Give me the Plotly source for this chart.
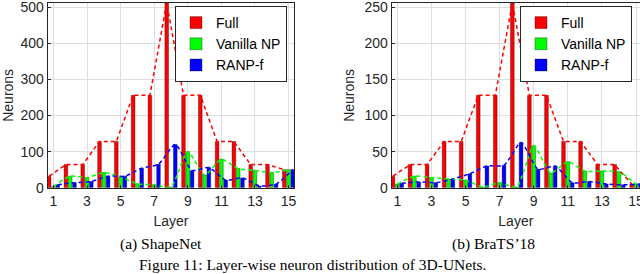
import plotly.graph_objects as go

layers = list(range(1, 16))

# ShapeNet
shape_full = [32, 64, 64, 128, 128, 256, 256, 512, 256, 256, 128, 128, 64, 64, 50]
shape_vnp = [3, 32, 28, 42, 30, 11, 8, 2, 100, 35, 79, 53, 48, 42, 50]
shape_ranp = [8, 14, 17, 32, 32, 54, 65, 120, 48, 56, 21, 27, 5, 10, 50]

# BraTS'18
brats_full = [16, 32, 32, 64, 64, 128, 128, 256, 128, 128, 64, 64, 32, 32, 5]
brats_vnp = [5, 16, 14, 12, 10.5, 1, 7, 1, 58, 20.5, 36, 23, 23, 22, 5]
brats_ranp = [6, 8, 7, 12, 19.5, 30, 31, 62.5, 25.5, 30, 7, 8.5, 5, 4, 5]

series_names = ["Full", "Vanilla NP", "RANP-f"]
colors = ["#ff0000", "#00ff00", "#0000ff"]
offsets = [-0.255, 0.0, 0.255]
bar_w = 0.22

fig = go.Figure()

def add_panel(data, xa, ya, legend):
    for k, (vals, name, col) in enumerate(zip(data, series_names, colors)):
        fig.add_trace(go.Bar(
            x=layers, y=vals, name=name, width=bar_w,
            offset=offsets[k] - bar_w / 2,
            marker=dict(color=col, line=dict(color="rgba(0,0,0,0.55)", width=0.6)),
            xaxis=xa, yaxis=ya, legend=legend,
        ))
    for k, (vals, col) in enumerate(zip(data, colors)):
        fig.add_trace(go.Scatter(
            x=[l + offsets[k] for l in layers], y=vals, mode="lines",
            line=dict(color=col, width=1.5, dash="4px,3px",
                      shape="linear" if k == 0 else "spline", smoothing=0.6),
            showlegend=False, xaxis=xa, yaxis=ya, hoverinfo="skip",
        ))

add_panel([shape_full, shape_vnp, shape_ranp], "x", "y", "legend")
add_panel([brats_full, brats_vnp, brats_ranp], "x2", "y2", "legend2")

font_axis = dict(family="Liberation Sans, Arial, sans-serif", size=14, color="#262626")
axis_common = dict(
    showline=True, linecolor="#262626", linewidth=1, mirror=True,
    showgrid=True, gridcolor="#dedede", gridwidth=1,
    ticks="inside", ticklen=3, tickcolor="#262626",
    tickfont=font_axis, zeroline=False, automargin=False,
    ticklabeloverflow="allow",
)

legend_font = dict(family="Liberation Sans, Arial, sans-serif", size=14, color="#000")
ydom = [1 - 187.7 / 274, 1 - 3 / 274]
fig.update_layout(
    width=640, height=274, margin=dict(l=0, r=0, t=0, b=0, autoexpand=False),
    paper_bgcolor="white", plot_bgcolor="white",
    barmode="overlay",
    xaxis=dict(domain=[47.7 / 640, 294.3 / 640], range=[0.66, 15.34],
               tickvals=[1, 3, 5, 7, 9, 11, 13, 15], anchor="y",
               title=dict(text="Layer", font=font_axis, standoff=8), **axis_common),
    yaxis=dict(domain=ydom, range=[0, 512], tickvals=[0, 100, 200, 300, 400, 500],
               anchor="x", title=dict(text="Neurons", font=font_axis, standoff=6), **axis_common),
    xaxis2=dict(domain=[391.7 / 640, 1.0], range=[0.67, 15.23],
                tickvals=[1, 3, 5, 7, 9, 11, 13, 15], anchor="y2",
                title=dict(text="Layer", font=font_axis, standoff=8), **axis_common),
    yaxis2=dict(domain=ydom, range=[0, 256], tickvals=[0, 50, 100, 150, 200, 250],
                anchor="x2", title=dict(text="Neurons", font=font_axis, standoff=6), **axis_common),
    legend=dict(x=287 / 640, xanchor="right", y=1 - 6 / 274, yanchor="top",
                bgcolor="white", bordercolor="#262626", borderwidth=1,
                font=legend_font, tracegroupgap=0, itemwidth=30),
    legend2=dict(x=632 / 640, xanchor="right", y=1 - 6 / 274, yanchor="top",
                 bgcolor="white", bordercolor="#262626", borderwidth=1,
                 font=legend_font, tracegroupgap=0, itemwidth=30),
)

serif = dict(family="Liberation Serif, Times New Roman, serif", size=15.5, color="#000")
fig.add_annotation(text="(a) ShapeNet", x=161 / 640, y=1 - 244 / 274, xref="paper", yref="paper",
                   showarrow=False, font=serif, xanchor="center", yanchor="middle")
fig.add_annotation(text="(b) BraTS’18", x=493 / 640, y=1 - 244 / 274, xref="paper", yref="paper",
                   showarrow=False, font=serif, xanchor="center", yanchor="middle")
fig.add_annotation(text="Figure 11: Layer-wise neuron distribution of 3D-UNets.",
                   x=312.5 / 640, y=1 - 264.5 / 274, xref="paper", yref="paper",
                   showarrow=False, font=serif, xanchor="center", yanchor="middle")

fig.write_html("out.html", config={"displayModeBar": False},
               post_script="document.body.style.margin='0';document.body.style.overflow='hidden';")
